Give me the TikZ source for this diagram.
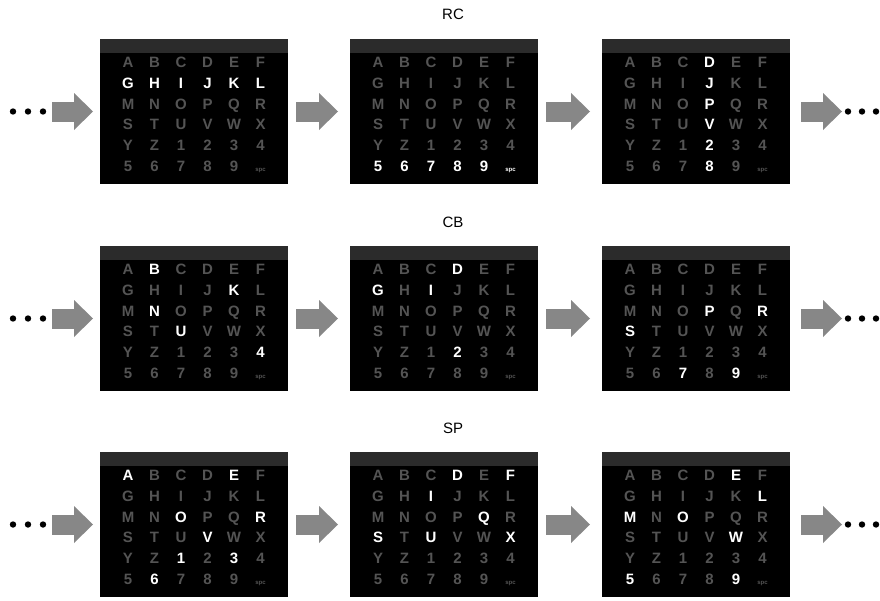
\documentclass[tikz,border=0pt]{standalone}
\usepackage{fontspec}
\setsansfont{Liberation Sans}
\usepackage{xstring}
\usetikzlibrary{positioning,arrows.meta,calc}
\definecolor{dimletter}{gray}{0.33}
\definecolor{barcol}{gray}{0.17}
\definecolor{arrowcol}{gray}{0.53}
\newcommand{\cellfont}{\sffamily\bfseries\fontsize{15}{15}\selectfont}
\newcommand{\spcfont}{\sffamily\bfseries\fontsize{6}{6}\selectfont}

% one speller matrix: name, left, top, lit symbols
\newcommand{\speller}[4]{%
  \node[panel] (#1) at (#2,#3) {};
  \fill[barcol] (#1.north west) rectangle ($(#1.north east)+(0,14)$);
  \foreach \ch [count=\k from 0] in {A,B,C,D,E,F,G,H,I,J,K,L,M,N,O,P,Q,R,S,T,U,V,W,X,Y,Z,1,2,3,4,5,6,7,8,9,spc} {
    \pgfmathtruncatemacro{\col}{mod(\k,6)}
    \pgfmathtruncatemacro{\row}{div(\k,6)}
    \IfSubStr{,#4,}{,\ch,}{\def\lc{white}}{\def\lc{dimletter}}
    \IfStrEq{\ch}{spc}{\def\lf{\spcfont}}{\def\lf{\cellfont}}
    \node[cell,text=\lc,font=\lf] (#1-\k) at ($(#1.north west)+(28+26.5*\col,23+20.9*\row)$) {\ch};
  }%
}

\begin{document}
\begin{tikzpicture}[x=1pt,y=-1pt,
  panel/.style={anchor=north west,fill=black,inner sep=0pt,outer sep=0pt,minimum width=188pt,minimum height=145pt},
  cell/.style={inner sep=0pt,text height=10.5pt,text depth=0pt},
  title/.style={font=\sffamily\fontsize{15}{15}\selectfont},
  blockarrow/.style={draw=arrowcol,line width=20pt,-{Triangle[length=19pt,width=37pt,line width=0pt,fill=arrowcol]},shorten <=8pt,shorten >=12pt}]
\useasboundingbox (0,0) rectangle (880,600);
% row 1: RC
\node[title] (rc-title) at (453,14) {RC};
\speller{rc1}{100}{39}{G,H,I,J,K,L}
\speller{rc2}{350}{39}{5,6,7,8,9,spc}
\speller{rc3}{602}{39}{D,J,P,V,2,8}
% row 2: CB
\node[title] (cb-title) at (453,222) {CB};
\speller{cb1}{100}{246}{B,K,N,U,4}
\speller{cb2}{350}{246}{D,G,I,2}
\speller{cb3}{602}{246}{P,R,S,7,9}
% row 3: SP
\node[title] (sp-title) at (453,428) {SP};
\speller{sp1}{100}{452}{A,E,O,R,V,1,3,6}
\speller{sp2}{350}{452}{D,F,I,Q,S,U,X}
\speller{sp3}{602}{452}{E,L,M,O,W,5,9}
% arrows and dots
\foreach \r in {rc,cb,sp} {
  \coordinate (\r-in) at ($(\r1.west)+(-48,0)$);
  \coordinate (\r-out) at ($(\r3.east)+(52,0)$);
  \draw[blockarrow,shorten <=0pt,shorten >=7pt] (\r-in) -- (\r1.west);
  \draw[blockarrow] (\r1.east) -- (\r2.west);
  \draw[blockarrow] (\r2.east) -- (\r3.west);
  \draw[blockarrow,shorten <=11pt,shorten >=0pt] (\r3.east) -- (\r-out);
  \foreach \dx in {-39,-24,-9} \fill ($(\r-in)+(\dx,0)$) circle (3.2);
  \foreach \dx in {6,20,34} \fill ($(\r-out)+(\dx,0)$) circle (3.2);
}
\end{tikzpicture}
\end{document}
